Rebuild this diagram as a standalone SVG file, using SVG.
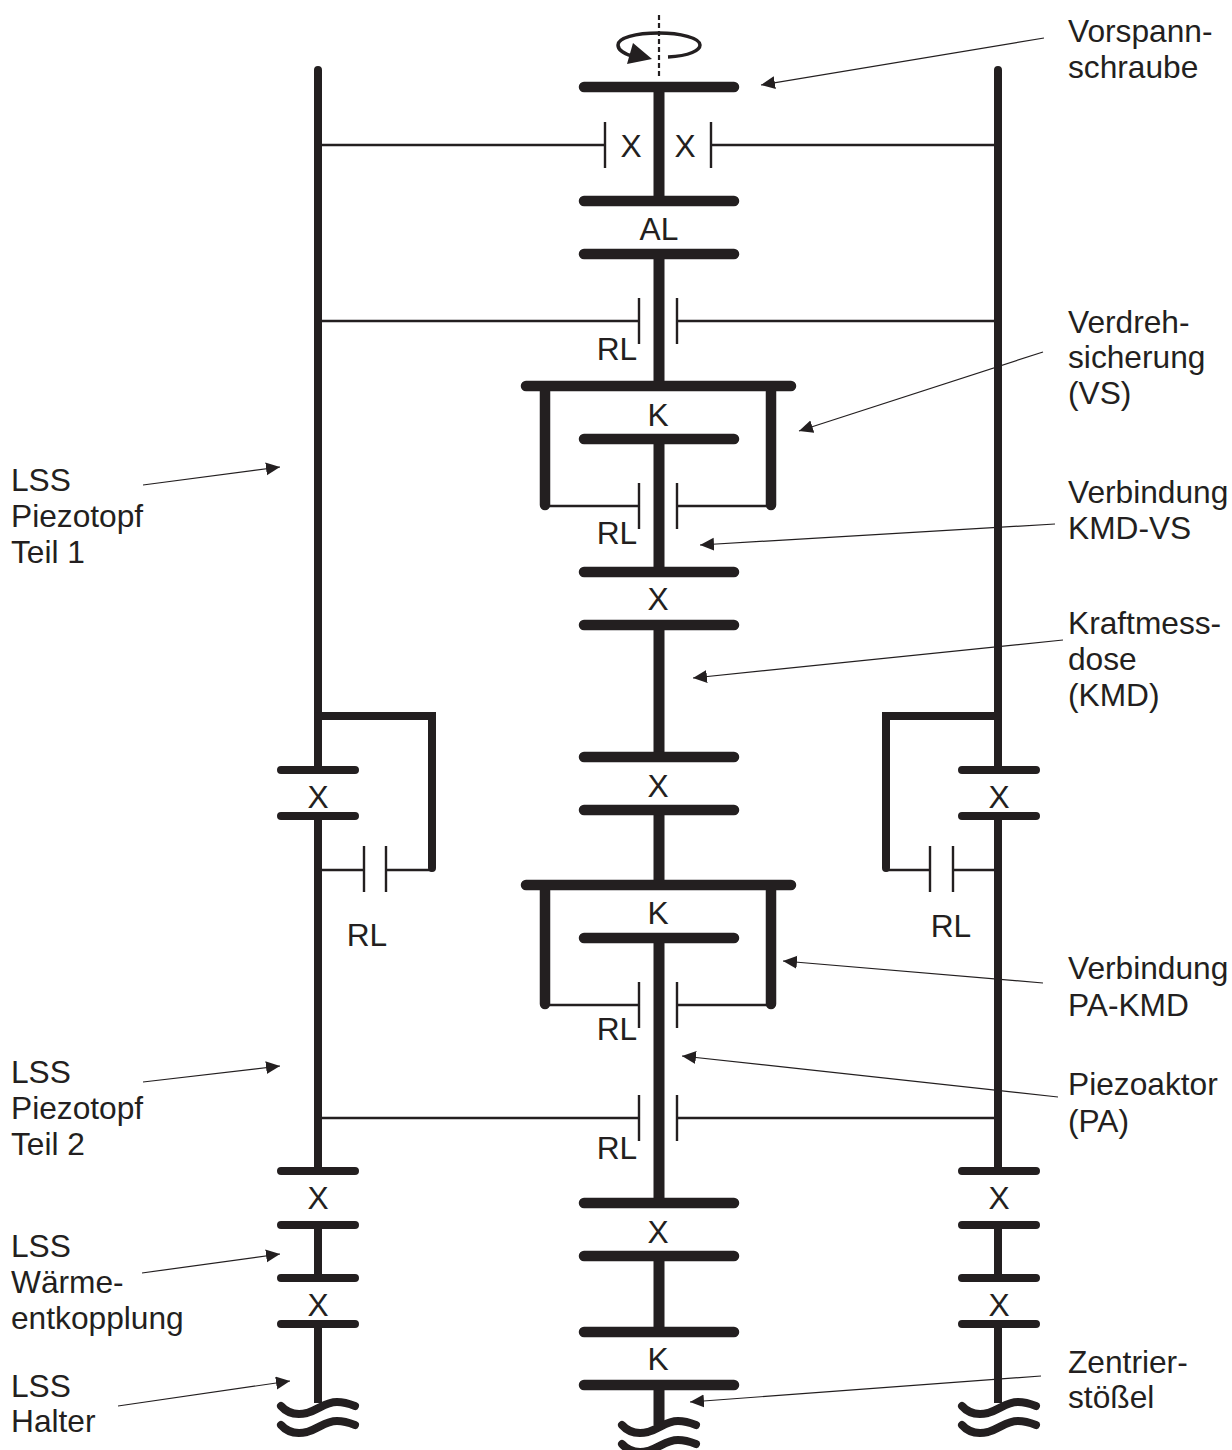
<svg xmlns="http://www.w3.org/2000/svg" width="1232" height="1450" viewBox="0 0 1232 1450">
<style>
text{font-family:"Liberation Sans",Arial,sans-serif;font-size:31.7px;fill:#231f20}
.m{text-anchor:middle}
.bar{stroke:#231f20;stroke-width:10.5;stroke-linecap:round;fill:none}
.sb{stroke:#231f20;stroke-width:8;stroke-linecap:round;fill:none}
.mid{stroke:#231f20;stroke-width:8;stroke-linecap:butt;fill:none}
.t{stroke:#231f20;stroke-width:2.4;fill:none}
.a{stroke:#231f20;stroke-width:1.2;fill:none;marker-end:url(#h)}
</style>
<defs>
<marker id="h" markerUnits="userSpaceOnUse" markerWidth="16" markerHeight="14" refX="14" refY="6.5" orient="auto"><path d="M0,0L14,6.5L0,13Z" fill="#231f20"/></marker>
<path id="wave" d="M0,0C7,8 17,9 26,7C39,3 44,-4 56,-4C64,-4 69,-2 74,0" class="sb"/>
</defs>
<g id="connectors">
<path class="a" d="M1044,38L761,85"/>
<path class="a" d="M1043,352L799,431"/>
<path class="a" d="M1055,524L700,545"/>
<path class="a" d="M1063,640L693,678"/>
<path class="a" d="M1043,983L783,961"/>
<path class="a" d="M1058,1097L682,1056"/>
<path class="a" d="M1041,1376L690,1402"/>
<path class="a" d="M143,485L280,467"/>
<path class="a" d="M143,1082L280,1066"/>
<path class="a" d="M142,1273L280,1254"/>
<path class="a" d="M118,1406L290,1381"/>
</g>
<g id="screw">
<path d="M659,15V76" stroke="#231f20" stroke-width="2.2" stroke-dasharray="5 3" fill="none"/>
<path d="M668,57C690,56 700,50 700,45C700,38 680,33 659,33C635,33 618,38 618,45C618,50 625,54 632,56" stroke="#231f20" stroke-width="3.5" fill="none"/>
<path d="M652,59L627,64L633,43Z" fill="#231f20"/>
</g>
<g id="center">
<path class="mid" style="stroke-width:11" d="M659,87V201M659,254V386M659,439V572M659,625V757M659,810V885M659,938V1203M659,1256V1332M659,1385V1425"/>
<path class="bar" d="M584,87H734M584,201H734M584,254H734M584,439H734M584,572H734M584,625H734M584,757H734M584,810H734M584,938H734M584,1203H734M584,1256H734M584,1332H734M584,1385H734"/>
<path class="bar" d="M526,386H791M545,386V505M771,386V505M526,885H791M545,885V1004M771,885V1004"/>
<path class="t" d="M318,145H605M605,122V168M711,122V168M712,145H998M318,321H639M639,298V344M677,298V344M678,321H998M545,506H639M639,483V529M677,483V529M678,506H771M545,1005H639M639,982V1028M677,982V1028M678,1005H771M318,1118H639M639,1095V1141M677,1095V1141M678,1118H998"/>
<use href="#wave" transform="translate(622,1425)"/>
<use href="#wave" transform="translate(622,1444)"/>
</g>
<g id="left">
<path class="mid" d="M318,70V770M318,816V1171M318,1225V1278M318,1324V1403"/>
<path class="sb" d="M318,70V72M281,770H355M281,816H355M281,1171H355M281,1225H355M281,1278H355M281,1324H355M318,716H432V868"/>
<path class="t" d="M318,870H364M364,846V892M386,846V892M386,870H432"/>
<use href="#wave" transform="translate(281,1406)"/>
<use href="#wave" transform="translate(281,1425)"/>
</g>
<g id="right">
<path class="mid" d="M998,70V770M998,816V1171M998,1225V1278M998,1324V1403"/>
<path class="sb" d="M998,70V72M962,770H1036M962,816H1036M962,1171H1036M962,1225H1036M962,1278H1036M962,1324H1036M998,716H886V868"/>
<path class="t" d="M886,870H930M930,846V892M953,846V892M953,870H998"/>
<use href="#wave" transform="translate(962,1406)"/>
<use href="#wave" transform="translate(962,1425)"/>
</g>
<g id="labels-center">
<text x="631" y="157" class="m">X</text><text x="685" y="157" class="m">X</text>
<text x="659" y="240" class="m">AL</text>
<text x="617" y="360" class="m">RL</text>
<text x="658" y="426" class="m">K</text>
<text x="617" y="544" class="m">RL</text>
<text x="658" y="610" class="m">X</text>
<text x="658" y="797" class="m">X</text>
<text x="658" y="924" class="m">K</text>
<text x="617" y="1040" class="m">RL</text>
<text x="617" y="1159" class="m">RL</text>
<text x="658" y="1243" class="m">X</text>
<text x="658" y="1370" class="m">K</text>
<text x="318" y="808" class="m">X</text><text x="367" y="946" class="m">RL</text><text x="318" y="1209" class="m">X</text><text x="318" y="1316" class="m">X</text>
<text x="999" y="808" class="m">X</text><text x="951" y="937" class="m">RL</text><text x="999" y="1209" class="m">X</text><text x="999" y="1316" class="m">X</text>
</g>
<g id="labels-left">
<text x="11" y="491">LSS</text><text x="11" y="527">Piezotopf</text><text x="11" y="563">Teil 1</text>
<text x="11" y="1083">LSS</text><text x="11" y="1119">Piezotopf</text><text x="11" y="1155">Teil 2</text>
<text x="11" y="1257">LSS</text><text x="11" y="1293">Wärme-</text><text x="11" y="1329">entkopplung</text>
<text x="11" y="1397">LSS</text><text x="11" y="1432">Halter</text>
</g>
<g id="labels-right">
<text x="1068" y="42">Vorspann-</text><text x="1068" y="78">schraube</text>
<text x="1068" y="333">Verdreh-</text><text x="1068" y="368">sicherung</text><text x="1068" y="404">(VS)</text>
<text x="1068" y="503">Verbindung</text><text x="1068" y="539">KMD-VS</text>
<text x="1068" y="634">Kraftmess-</text><text x="1068" y="670">dose</text><text x="1068" y="706">(KMD)</text>
<text x="1068" y="979">Verbindung</text><text x="1068" y="1016">PA-KMD</text>
<text x="1068" y="1095">Piezoaktor</text><text x="1068" y="1132">(PA)</text>
<text x="1068" y="1373">Zentrier-</text><text x="1068" y="1408">stößel</text>
</g>
</svg>
